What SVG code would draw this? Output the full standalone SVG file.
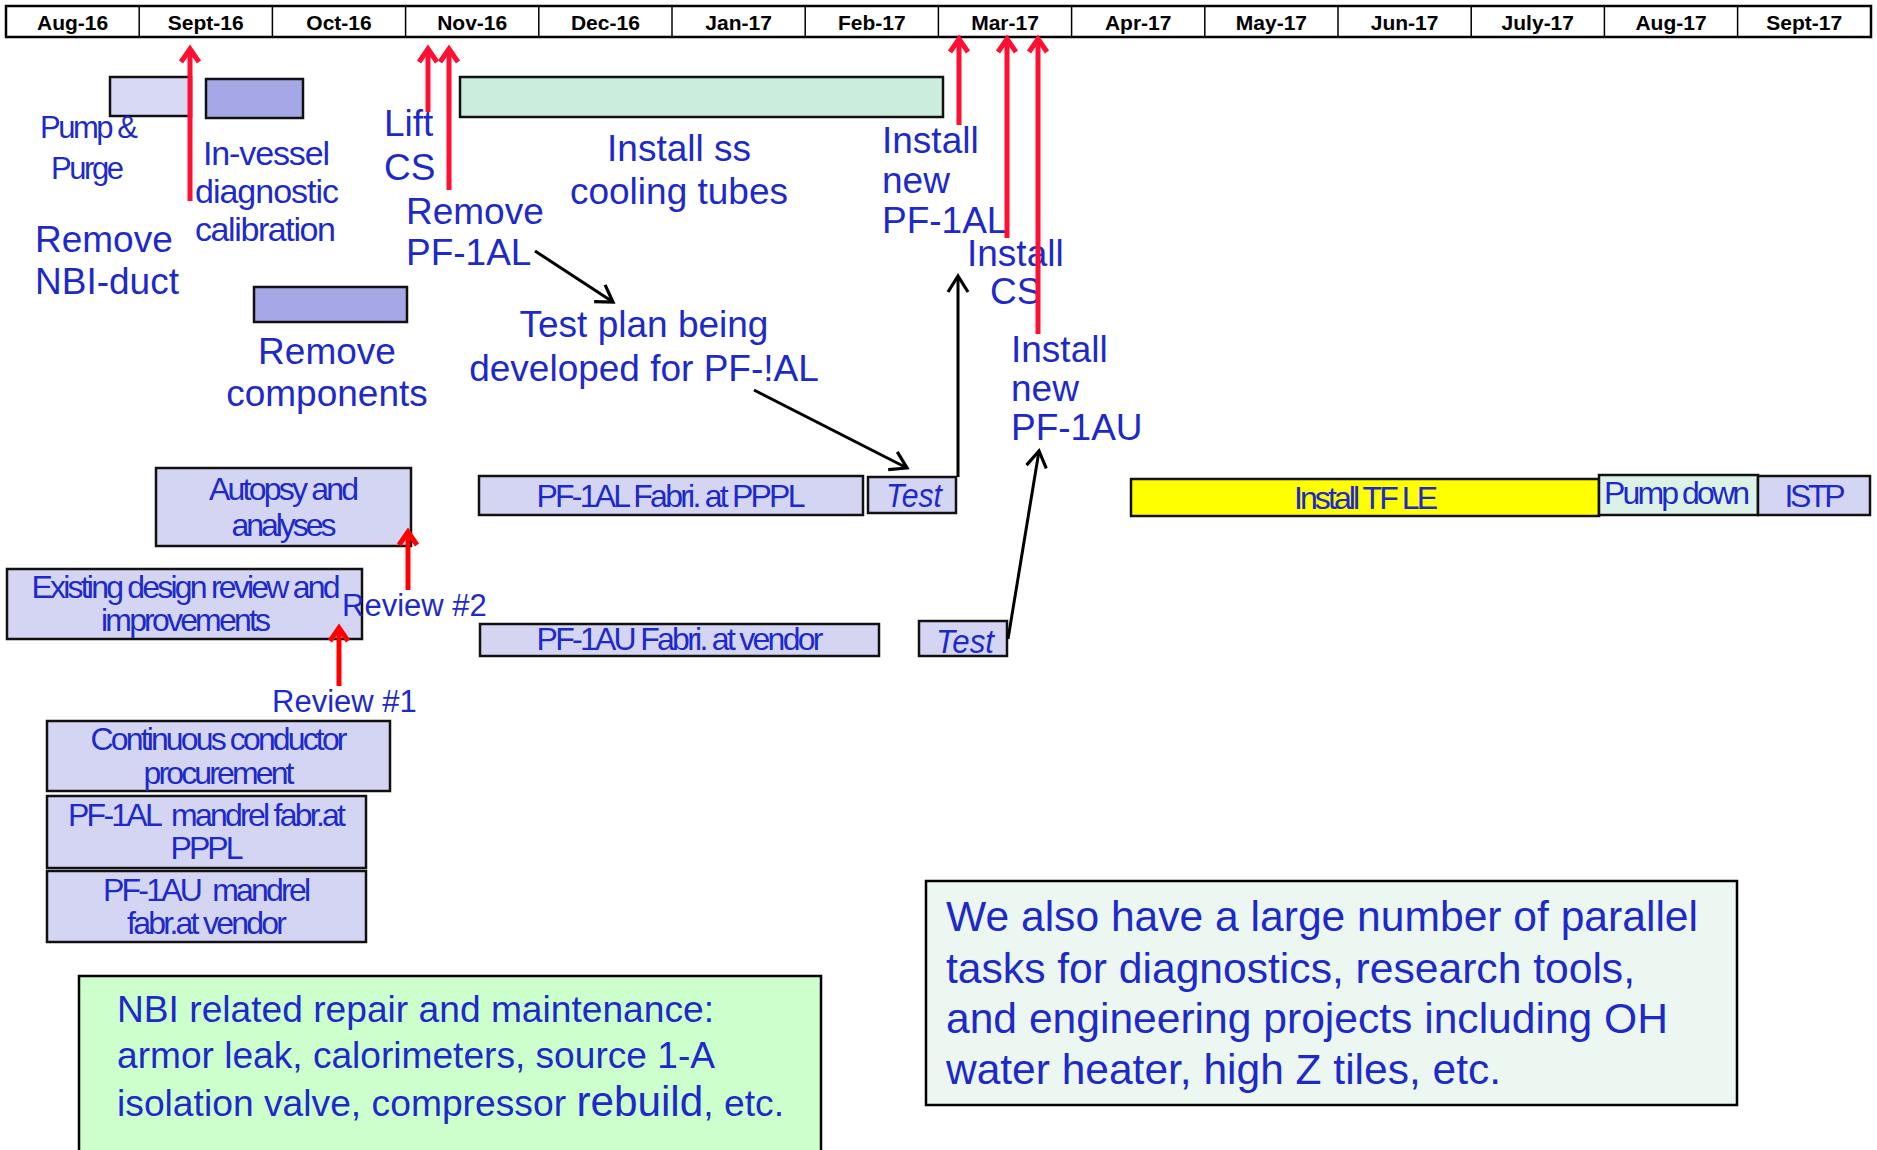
<svg xmlns="http://www.w3.org/2000/svg" width="1877" height="1150" viewBox="0 0 1877 1150">
<defs>
<style>
.t{font-family:"Liberation Sans",Arial,sans-serif;fill:#1d2ac9}
.b{font-size:37px}
.c{font-size:32px}
.hd{font-family:"Liberation Sans",Arial,sans-serif;font-weight:bold;font-size:21px;fill:#000;text-anchor:middle}
.bx{stroke:#111;stroke-width:2.5}
.lav{fill:#d4d5f3}
.pur{fill:#a5a7e6}
.red{stroke:#ff1033;stroke-width:5;fill:none}
.rv{stroke:#ff0000;stroke-width:5;fill:none}
.blk{stroke:#000;stroke-width:3;fill:none}
</style>
<marker id="rh" markerUnits="userSpaceOnUse" markerWidth="40" markerHeight="40" viewBox="-20 -20 40 40" refX="0" refY="0" orient="auto">
<path d="M-13,-9 L0,0 L-13,9" fill="none" stroke="#ff1033" stroke-width="5"/>
</marker>
<marker id="rv" markerUnits="userSpaceOnUse" markerWidth="40" markerHeight="40" viewBox="-20 -20 40 40" refX="0" refY="0" orient="auto">
<path d="M-13,-9 L0,0 L-13,9" fill="none" stroke="#ff0000" stroke-width="5"/>
</marker>
<marker id="bh" markerUnits="userSpaceOnUse" markerWidth="40" markerHeight="40" viewBox="-20 -20 40 40" refX="0" refY="0" orient="auto">
<path d="M-16,-10 L0,0 L-16,10" fill="none" stroke="#000" stroke-width="3.2"/>
</marker>
</defs>
<rect width="1877" height="1150" fill="#fff"/>

<g id="timeline-header">
<rect x="6" y="6" width="1865" height="31" fill="#fff" stroke="#000" stroke-width="2.5"/>
<path d="M139.2,6V37M272.4,6V37M405.6,6V37M538.8,6V37M672,6V37M805.2,6V37M938.4,6V37M1071.6,6V37M1204.8,6V37M1338,6V37M1471.2,6V37M1604.4,6V37M1737.6,6V37" stroke="#000" stroke-width="1.5"/>
<text class="hd" x="72.6" y="29.5">Aug-16</text>
<text class="hd" x="205.8" y="29.5">Sept-16</text>
<text class="hd" x="339" y="29.5">Oct-16</text>
<text class="hd" x="472.2" y="29.5">Nov-16</text>
<text class="hd" x="605.4" y="29.5">Dec-16</text>
<text class="hd" x="738.6" y="29.5">Jan-17</text>
<text class="hd" x="871.8" y="29.5">Feb-17</text>
<text class="hd" x="1005" y="29.5">Mar-17</text>
<text class="hd" x="1138.2" y="29.5">Apr-17</text>
<text class="hd" x="1271.4" y="29.5">May-17</text>
<text class="hd" x="1404.6" y="29.5">Jun-17</text>
<text class="hd" x="1537.8" y="29.5">July-17</text>
<text class="hd" x="1671" y="29.5">Aug-17</text>
<text class="hd" x="1804.2" y="29.5">Sept-17</text>
</g>

<g id="pump-purge">
<rect class="bx" x="110" y="77" width="81" height="39" fill="#d8d9f5"/>
<text class="t" font-size="31" x="40" y="138" textLength="98" lengthAdjust="spacing">Pump &amp;</text>
<text class="t" font-size="31" x="51" y="179" textLength="73" lengthAdjust="spacing">Purge</text>
</g>

<g id="in-vessel-calibration">
<rect class="bx pur" x="206" y="79" width="97" height="39"/>
<text class="t" font-size="34" x="203" y="165" textLength="127" lengthAdjust="spacing">In-vessel</text>
<text class="t" font-size="34" x="195" y="203" textLength="144" lengthAdjust="spacing">diagnostic</text>
<text class="t" font-size="34" x="195" y="241" textLength="141" lengthAdjust="spacing">calibration</text>
</g>

<g id="remove-nbi-duct">
<text class="t b" x="35" y="252">Remove</text>
<text class="t b" x="35" y="294">NBI-duct</text>
</g>

<g id="remove-components">
<rect class="bx pur" x="254" y="287" width="153" height="35"/>
<text class="t b" x="327" y="364" text-anchor="middle">Remove</text>
<text class="t b" x="327" y="406" text-anchor="middle">components</text>
</g>

<g id="lift-cs">
<text class="t b" x="384" y="136">Lift</text>
<text class="t b" x="384" y="180">CS</text>
</g>

<g id="remove-pf1al">
<text class="t b" x="406" y="224">Remove</text>
<text class="t b" x="406" y="265">PF-1AL</text>
</g>

<g id="install-ss-cooling-tubes">
<rect class="bx" x="460" y="77" width="483" height="40" fill="#cbeddd"/>
<text class="t b" x="679" y="161" text-anchor="middle">Install ss</text>
<text class="t b" x="679" y="204" text-anchor="middle">cooling tubes</text>
</g>

<g id="install-new-pf1al">
<text class="t b" x="882" y="153">Install</text>
<text class="t b" x="882" y="193">new</text>
<text class="t b" x="882" y="233">PF-1AL</text>
</g>

<g id="install-cs">
<text class="t b" x="967" y="266">Install</text>
<text class="t b" x="990" y="304">CS</text>
</g>

<g id="install-new-pf1au">
<text class="t b" x="1011" y="362">Install</text>
<text class="t b" x="1011" y="401">new</text>
<text class="t b" x="1011" y="440">PF-1AU</text>
</g>

<g id="test-plan">
<text class="t b" x="644" y="337" text-anchor="middle">Test plan being</text>
<text class="t b" x="644" y="381" text-anchor="middle">developed for PF-!AL</text>
</g>

<g id="autopsy">
<rect class="bx lav" x="156" y="468" width="255" height="78"/>
<text class="t c" x="284" y="500" text-anchor="middle" textLength="150" lengthAdjust="spacing">Autopsy and</text>
<text class="t c" x="284" y="536" text-anchor="middle" textLength="105" lengthAdjust="spacing">analyses</text>
</g>

<g id="existing-design-review">
<rect class="bx lav" x="7" y="569" width="355" height="70"/>
<text class="t c" x="186" y="598" text-anchor="middle" textLength="309" lengthAdjust="spacing">Existing design review and</text>
<text class="t c" x="186" y="631" text-anchor="middle" textLength="170" lengthAdjust="spacing">improvements</text>
</g>

<g id="review-2">
<text class="t" font-size="31" x="342" y="616">Review #2</text>
</g>

<g id="review-1">
<text class="t" font-size="31" x="272" y="712">Review #1</text>
</g>

<g id="continuous-conductor">
<rect class="bx lav" x="47" y="721" width="343" height="70"/>
<text class="t c" x="219" y="750" text-anchor="middle" textLength="257" lengthAdjust="spacing">Continuous conductor</text>
<text class="t c" x="219" y="784" text-anchor="middle" textLength="151" lengthAdjust="spacing">procurement</text>
</g>

<g id="pf1al-mandrel">
<rect class="bx lav" x="47" y="796" width="319" height="72"/>
<text class="t c" x="207" y="826" text-anchor="middle" textLength="278" lengthAdjust="spacing" xml:space="preserve">PF-1AL  mandrel fabr.at</text>
<text class="t c" x="207" y="859" text-anchor="middle" textLength="73" lengthAdjust="spacing">PPPL</text>
</g>

<g id="pf1au-mandrel">
<rect class="bx lav" x="47" y="871" width="319" height="71"/>
<text class="t c" x="207" y="901" text-anchor="middle" textLength="208" lengthAdjust="spacing" xml:space="preserve">PF-1AU  mandrel</text>
<text class="t c" x="207" y="934" text-anchor="middle" textLength="160" lengthAdjust="spacing">fabr.at vendor</text>
</g>

<g id="pf1al-fabri">
<rect class="bx lav" x="479" y="476" width="384" height="39"/>
<text class="t c" x="671" y="507" text-anchor="middle" textLength="269" lengthAdjust="spacing">PF-1AL Fabri. at PPPL</text>
</g>

<g id="test-1">
<rect class="bx lav" x="868" y="477" width="88" height="36"/>
<text class="t" font-size="34" x="914" y="507" text-anchor="middle" font-style="italic" textLength="56" lengthAdjust="spacingAndGlyphs">Test</text>
</g>

<g id="pf1au-fabri">
<rect class="bx lav" x="480" y="624" width="399" height="32"/>
<text class="t c" x="680" y="650" text-anchor="middle" textLength="287" lengthAdjust="spacing">PF-1AU Fabri. at vendor</text>
</g>

<g id="test-2">
<rect class="bx lav" x="919" y="621" width="88" height="35"/>
<text class="t" font-size="34" x="965" y="653" text-anchor="middle" font-style="italic" textLength="58" lengthAdjust="spacingAndGlyphs">Test</text>
</g>

<g id="install-tf-le">
<rect class="bx" x="1131" y="479" width="468" height="37" fill="#ffff00"/>
<text class="t c" x="1366" y="509" text-anchor="middle" textLength="144" lengthAdjust="spacing">Install TF LE</text>
</g>

<g id="pump-down">
<rect class="bx" x="1599" y="475" width="159" height="40" fill="#dcf1e8"/>
<text class="t c" x="1677" y="504" text-anchor="middle" textLength="146" lengthAdjust="spacing">Pump down</text>
</g>

<g id="istp">
<rect class="bx lav" x="1758" y="476" width="112" height="39"/>
<text class="t c" x="1815" y="507" text-anchor="middle" textLength="61" lengthAdjust="spacing">ISTP</text>
</g>

<g id="nbi-note">
<rect x="79" y="976" width="742" height="190" fill="#ccffcc" stroke="#000" stroke-width="2.5"/>
<text class="t" font-size="37" x="117" y="1022" textLength="597" lengthAdjust="spacingAndGlyphs">NBI related repair and maintenance:</text>
<text class="t" font-size="37" x="117" y="1068" textLength="598" lengthAdjust="spacingAndGlyphs">armor leak, calorimeters, source 1-A</text>
<text class="t" font-size="37" x="117" y="1116" textLength="667" lengthAdjust="spacingAndGlyphs">isolation valve, compressor <tspan font-size="42">rebuild</tspan>, etc.</text>
</g>

<g id="parallel-tasks-note">
<rect x="926" y="881" width="811" height="224" fill="#ecf7f1" stroke="#000" stroke-width="2.5"/>
<text class="t" font-size="42" x="946" y="931" textLength="752" lengthAdjust="spacingAndGlyphs">We also have a large number of parallel</text>
<text class="t" font-size="42" x="946" y="983" textLength="689" lengthAdjust="spacingAndGlyphs">tasks for diagnostics, research tools,</text>
<text class="t" font-size="42" x="946" y="1033" textLength="722" lengthAdjust="spacingAndGlyphs">and engineering projects including OH</text>
<text class="t" font-size="42" x="946" y="1084" textLength="555" lengthAdjust="spacingAndGlyphs">water heater, high Z tiles, etc.</text>
</g>

<g id="connectors">
<path class="red" d="M190,201V49" marker-end="url(#rh)"/>
<path class="red" d="M428,112V49" marker-end="url(#rh)"/>
<path class="red" d="M449,190V49" marker-end="url(#rh)"/>
<path class="red" d="M959,125V39" marker-end="url(#rh)"/>
<path class="red" d="M1007,238V39" marker-end="url(#rh)"/>
<path class="red" d="M1038,334V39" marker-end="url(#rh)"/>
<path class="rv" d="M408,590V532" marker-end="url(#rv)"/>
<path class="rv" d="M339,686V628" marker-end="url(#rv)"/>
<path class="blk" d="M535,251L613,302" marker-end="url(#bh)"/>
<path class="blk" d="M754,390L907,468" marker-end="url(#bh)"/>
<path class="blk" d="M958,477V276" marker-end="url(#bh)"/>
<path class="blk" d="M1008,639L1039,451" marker-end="url(#bh)"/>
</g>
</svg>
